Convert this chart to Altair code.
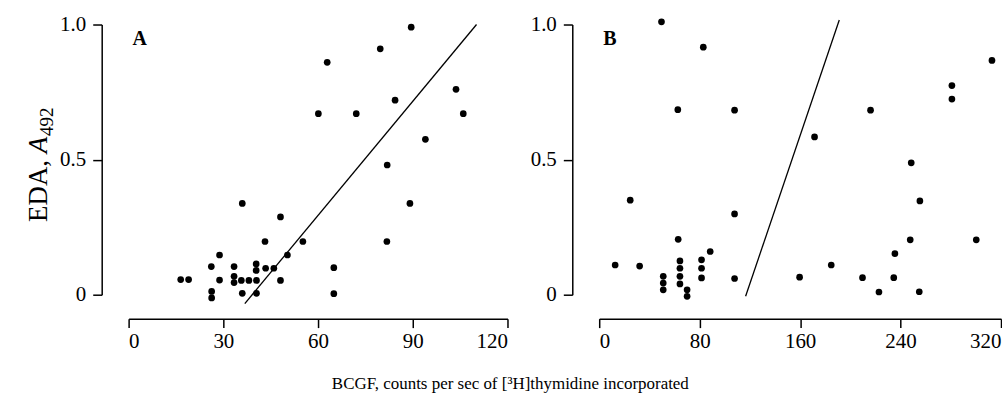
import altair as alt
import pandas as pd

# ---- data ----
a_x = [89.5, 79.7, 62.9, 103.7, 84.4, 60.1, 72.1, 106.0, 94.0, 81.9,
       36.0, 89.1, 48.1, 43.2, 55.2, 81.8, 28.8, 50.3, 26.2, 33.4,
       40.4, 40.4, 43.4, 46.0, 65.0, 16.5, 19.0, 28.8, 33.4, 33.4,
       35.7, 38.1, 40.5, 48.1, 26.3, 26.3, 36.0, 40.5, 65.0]
a_y = [0.99, 0.91, 0.86, 0.76, 0.72, 0.67, 0.67, 0.67, 0.575, 0.48,
       0.338, 0.338, 0.288, 0.197, 0.197, 0.197, 0.147, 0.147, 0.104, 0.104,
       0.114, 0.090, 0.098, 0.098, 0.100, 0.056, 0.056, 0.054, 0.068, 0.045,
       0.053, 0.053, 0.053, 0.053, 0.012, -0.012, 0.005, 0.005, 0.004]

b_x = [49.6, 82.9, 62.6, 107.8, 216.1, 312.8, 280.9, 280.9, 171.5, 248.5,
       24.7, 255.4, 107.8, 62.9, 247.7, 300.3, 88.4, 235.5, 12.7, 32.2,
       184.8, 64.3, 64.3, 64.3, 64.3, 81.5, 81.5, 81.5, 51.0, 51.0,
       51.0, 70.0, 70.0, 107.8, 159.6, 209.7, 234.6, 222.8, 254.9]
b_y = [1.01, 0.916, 0.685, 0.683, 0.683, 0.867, 0.774, 0.724, 0.584, 0.488,
       0.350, 0.347, 0.299, 0.205, 0.203, 0.203, 0.160, 0.152, 0.110, 0.106,
       0.110, 0.125, 0.098, 0.068, 0.040, 0.129, 0.098, 0.062, 0.068, 0.043,
       0.018, 0.018, -0.006, 0.060, 0.065, 0.063, 0.063, 0.010, 0.011]

a_line_x = [36.8, 110.2]
a_line_y = [-0.033, 1.0]
b_line_x = [116.6, 191.2]
b_line_y = [-0.006, 1.017]

a_ticks = [0, 30, 60, 90, 120]
b_ticks = [0, 80, 160, 240, 320]
y_ticks = [0, 0.5, 1.0]

x_title = "BCGF, counts per sec of [³H]thymidine incorporated"
y_title_main = "EDA, "
y_title_var = "A"
y_title_sub = "492"

FONT = "Liberation Serif"
YT_SIZE = 27
YT_SUB = 19


def panel(px, py, lx, ly, xdom, xticks, letter, width, with_title):
    pts = pd.DataFrame({"x": px, "y": py})
    ln = pd.DataFrame({"x": lx, "y": ly})
    lab = pd.DataFrame({"t": [letter]})
    xs = alt.Scale(domain=xdom, nice=False, zero=False)
    ys = alt.Scale(domain=[0, 1], nice=False, zero=False)
    xax = alt.Axis(values=xticks, title="", offset=24, labelPadding=3)
    yax = alt.Axis(values=y_ticks, title="", offset=27, labelPadding=7,
                   labelExpr="datum.value == 0 ? '0' : format(datum.value, '.1f')")
    points = alt.Chart(pts).mark_circle(size=45, color="black", opacity=1).encode(
        x=alt.X("x:Q", scale=xs, axis=xax),
        y=alt.Y("y:Q", scale=ys, axis=yax),
    )
    line = alt.Chart(ln).mark_line(color="black", strokeWidth=1.3).encode(
        x=alt.X("x:Q", scale=xs, axis=xax),
        y=alt.Y("y:Q", scale=ys, axis=yax),
    )
    label = alt.Chart(lab).mark_text(
        font=FONT, fontSize=20, fontWeight="bold", align="left",
        baseline="alphabetic", color="black"
    ).encode(x=alt.value(4), y=alt.value(21), text="t:N")
    layers = [points, line, label]
    if with_title:
        base_y = 198
        w_main = 2.555 * YT_SIZE
        w_var = 0.64 * YT_SIZE
        t1 = alt.Chart(pd.DataFrame({"t": [y_title_main]})).mark_text(
            font=FONT, fontSize=YT_SIZE, angle=270, align="left",
            baseline="alphabetic", color="black"
        ).encode(x=alt.value(-82), y=alt.value(base_y), text="t:N")
        t2 = alt.Chart(pd.DataFrame({"t": [y_title_var]})).mark_text(
            font=FONT, fontSize=YT_SIZE, fontStyle="italic", angle=270,
            align="left", baseline="alphabetic", color="black"
        ).encode(x=alt.value(-82), y=alt.value(base_y - w_main), text="t:N")
        t3 = alt.Chart(pd.DataFrame({"t": [y_title_sub]})).mark_text(
            font=FONT, fontSize=YT_SUB, angle=270, align="left",
            baseline="alphabetic", color="black"
        ).encode(x=alt.value(-76), y=alt.value(base_y - w_main - w_var), text="t:N")
        layers += [t1, t2, t3]
    return alt.layer(*layers).properties(width=width, height=271)


pa = panel(a_x, a_y, a_line_x, a_line_y, [0, 120], a_ticks, "A", 380, True)
pb = panel(b_x, b_y, b_line_x, b_line_y, [0, 320], b_ticks, "B", 403, False)

chart = alt.hconcat(pa, pb, spacing=21).properties(
    padding={"left": 25, "top": 13, "right": 0, "bottom": 0},
    background="white",
    title=alt.TitleParams(
        x_title, orient="bottom", anchor="middle", font=FONT, fontSize=17,
        fontWeight="normal", color="black", offset=25, dx=-3,
    ),
).configure_view(stroke=None).configure_axis(
    grid=False,
    domainColor="black", domainWidth=1.5,
    tickColor="black", tickWidth=1.5, tickSize=9,
    labelFont=FONT, labelFontSize=21, labelColor="black",
)

chart.save("out.html", embed_options={"renderer": "svg", "actions": False})
